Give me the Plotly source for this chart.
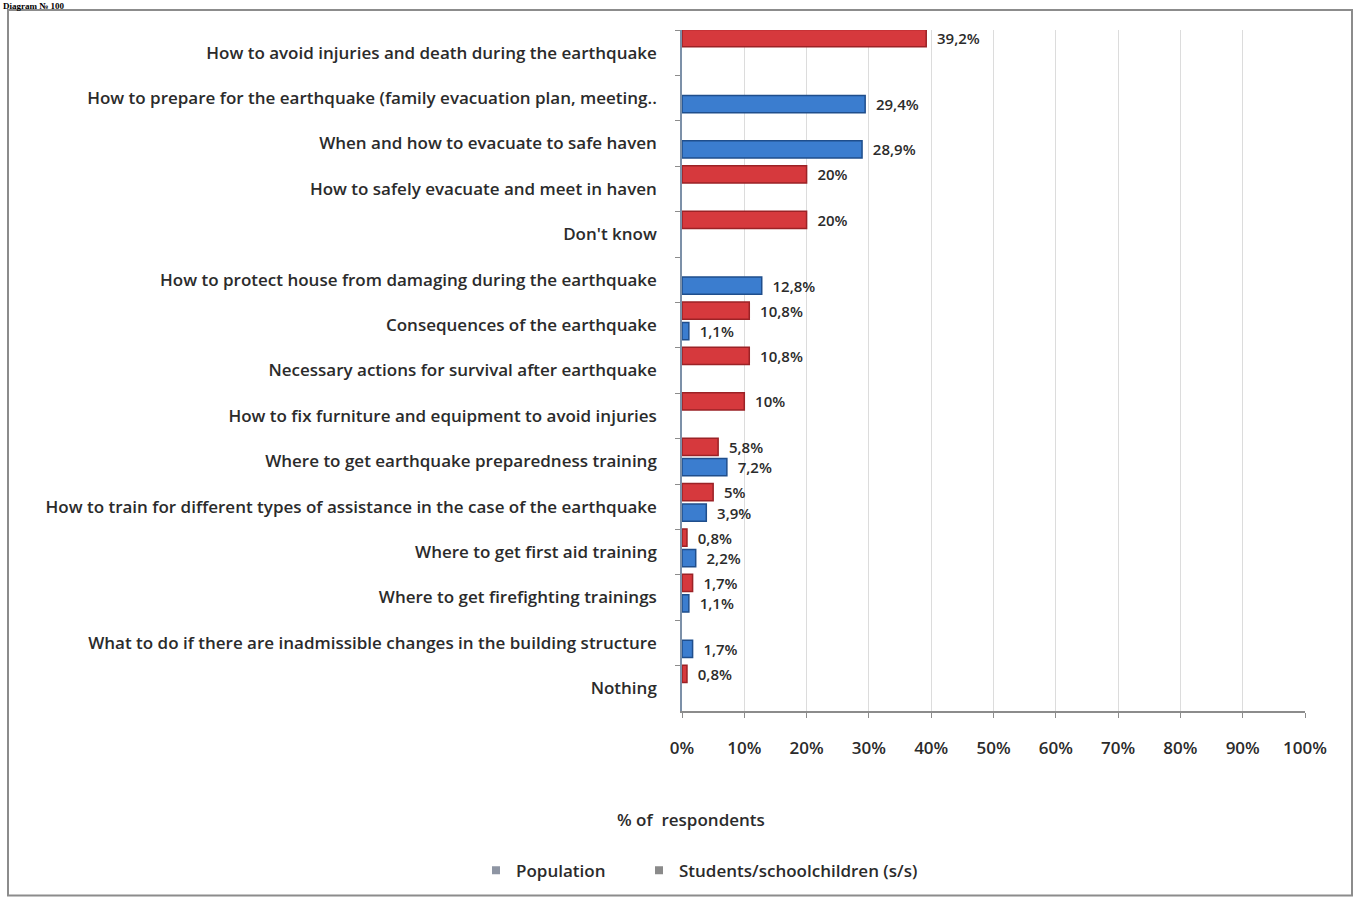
import plotly.graph_objects as go

categories = [
    "How to avoid injuries and death during the earthquake",
    "How to prepare for the earthquake (family evacuation plan, meeting..",
    "When and how to evacuate to safe haven",
    "How to safely evacuate and meet in haven",
    "Don't know",
    "How to protect house from damaging during the earthquake",
    "Consequences of the earthquake",
    "Necessary actions for survival after earthquake",
    "How to fix furniture and equipment to avoid injuries",
    "Where to get earthquake preparedness training",
    "How to train for different types of assistance in the case of the earthquake",
    "Where to get first aid training",
    "Where to get firefighting trainings",
    "What to do if there are inadmissible changes in the building structure",
    "Nothing",
]
red_values = [39.2, None, None, 20, 20, None, 10.8, 10.8, 10, 5.8, 5, 0.8, 1.7, None, 0.8]
blue_values = [None, 29.4, 28.9, None, None, 12.8, 1.1, None, None, 7.2, 3.9, 2.2, 1.1, 1.7, None]
x_ticks = [0, 10, 20, 30, 40, 50, 60, 70, 80, 90, 100]
legend_names = ["Population", "Students/schoolchildren (s/s)"]


def fmt(v):
    if v is None:
        return ""
    return "  " + f"{v:g}".replace(".", ",") + "%"


FONT = "Open Sans"
TXT = "#2b2b2b"
label_font = dict(family=FONT, size=15, color=TXT, weight=600)

fig = go.Figure()

fig.add_trace(go.Bar(
    y=categories, x=red_values, orientation="h",
    name=legend_names[1], showlegend=False,
    marker=dict(color="#D6393D", line=dict(color="#9B2226", width=1.5)),
    offset=-0.51, width=0.38,
    text=[fmt(v) for v in red_values], textposition="outside",
    constraintext="none", textfont=label_font,
    cliponaxis=False,
))
fig.add_trace(go.Bar(
    y=categories, x=blue_values, orientation="h",
    name=legend_names[0], showlegend=False,
    marker=dict(color="#3B7DCF", line=dict(color="#1F4E8C", width=1.5)),
    offset=-0.06, width=0.38,
    text=[fmt(v) for v in blue_values], textposition="outside",
    constraintext="none", textfont=label_font,
    cliponaxis=False,
))

W, H = 1356, 901
L, R, T, B = 682, 51, 30, 188
pw, ph = W - L - R, H - T - B


def px_x(p):
    return (p - L) / pw


def px_y(p):
    return (H - B - p) / ph


# legend entries (rendered gray in the reference), each in its own legend box
for name, col, lg in zip(legend_names, ["#8E95A3", "#8A8A8A"], ["legend", "legend2"]):
    fig.add_trace(go.Scatter(
        x=[None], y=[None], mode="markers", name=name, legend=lg,
        marker=dict(symbol="square", size=8, color=col),
    ))

legend_font = dict(family=FONT, size=17, color=TXT, weight=600)

fig.update_layout(
    width=W, height=H,
    margin=dict(l=L, r=R, t=T, b=B, pad=0),
    paper_bgcolor="white", plot_bgcolor="white",
    barmode="overlay",
    font=dict(family=FONT, size=14, color=TXT),
    legend=dict(
        orientation="h", x=px_x(476), y=px_y(855), xanchor="left", yanchor="top",
        font=legend_font, itemwidth=30, bgcolor="rgba(0,0,0,0)",
    ),
    legend2=dict(
        orientation="h", x=px_x(639), y=px_y(855), xanchor="left", yanchor="top",
        font=legend_font, itemwidth=30, bgcolor="rgba(0,0,0,0)",
    ),
    xaxis=dict(
        range=[0, 100], tickvals=x_ticks,
        ticktext=[f"{t}%" for t in x_ticks],
        showgrid=True, gridcolor="#DCDCDC", gridwidth=1,
        showline=True, linecolor="#8C8C8C", linewidth=1.5,
        ticks="outside", ticklen=5, tickcolor="#8C8C8C",
        ticklabelstandoff=16,
        tickfont=dict(family=FONT, size=17, color=TXT, weight=600),
        zeroline=False, fixedrange=True,
    ),
    yaxis=dict(
        type="category", categoryorder="array", categoryarray=categories,
        range=[14.5, -0.5],
        showline=True, linecolor="#7C90A8", linewidth=1.5,
        ticks="outside", ticklen=5, tickcolor="#8C8C8C", tickson="boundaries",
        ticklabelstandoff=20,
        tickfont=dict(family=FONT, size=17, color=TXT, weight=600),
        showgrid=False, zeroline=False, fixedrange=True,
    ),
    annotations=[
        dict(text="% of  respondents", xref="paper", yref="paper",
             x=px_x(691), y=px_y(822), xanchor="center", yanchor="middle",
             showarrow=False, font=dict(family=FONT, size=17, color=TXT, weight=600)),
        dict(text="<b>Diagram № 100</b>", xref="paper", yref="paper",
             x=px_x(2), y=px_y(0), xanchor="left", yanchor="top",
             showarrow=False, borderpad=0,
             font=dict(family="Liberation Serif", size=9, color="black")),
    ],
    shapes=[
        dict(type="rect", xref="paper", yref="paper",
             x0=px_x(8), x1=px_x(1352), y0=px_y(898), y1=px_y(10),
             line=dict(color="#8C8C8C", width=2), fillcolor="rgba(0,0,0,0)", layer="below"),
    ],
)

fig.write_html(
    "out.html",
    config={"displayModeBar": False},
    post_script="document.body.style.margin='0px';document.body.style.overflow='hidden';",
)
